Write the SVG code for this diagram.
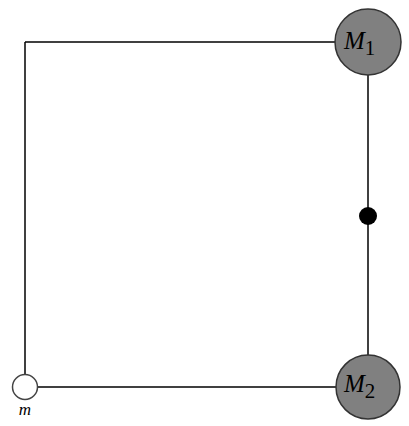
<svg xmlns="http://www.w3.org/2000/svg" width="409" height="426" viewBox="0 0 409 426">
<style>
.ln{stroke:#000;stroke-width:1.5;fill:none}
.big{fill:#808080;stroke:#333;stroke-width:1.5}
.lab{font-family:"Liberation Serif",serif;font-style:italic;font-size:25px;fill:#000}
.sub{font-family:"Liberation Serif",serif;font-size:21px;font-style:normal}
</style>
<rect width="409" height="426" fill="#fff"/>
<g id="connectors">
<line class="ln" x1="25" y1="42" x2="336" y2="42"/>
<line class="ln" x1="25" y1="42" x2="25" y2="374"/>
<line class="ln" x1="37" y1="387" x2="336" y2="387"/>
<line class="ln" x1="368" y1="75" x2="368" y2="355"/>
</g>
<g id="M1">
<circle class="big" cx="368" cy="42" r="33"/>
<text class="lab" x="344" y="49">M<tspan class="sub" dy="6">1</tspan></text>
</g>
<g id="M2">
<circle class="big" cx="368" cy="387" r="32"/>
<text class="lab" x="344" y="392">M<tspan class="sub" dy="6">2</tspan></text>
</g>
<g id="mid">
<circle cx="368" cy="216" r="9" fill="#000"/>
</g>
<g id="m">
<circle cx="25" cy="387" r="12.5" fill="#fff" stroke="#444" stroke-width="1.5"/>
<text class="lab" x="25" y="415" text-anchor="middle" style="font-size:17px">m</text>
</g>
</svg>
